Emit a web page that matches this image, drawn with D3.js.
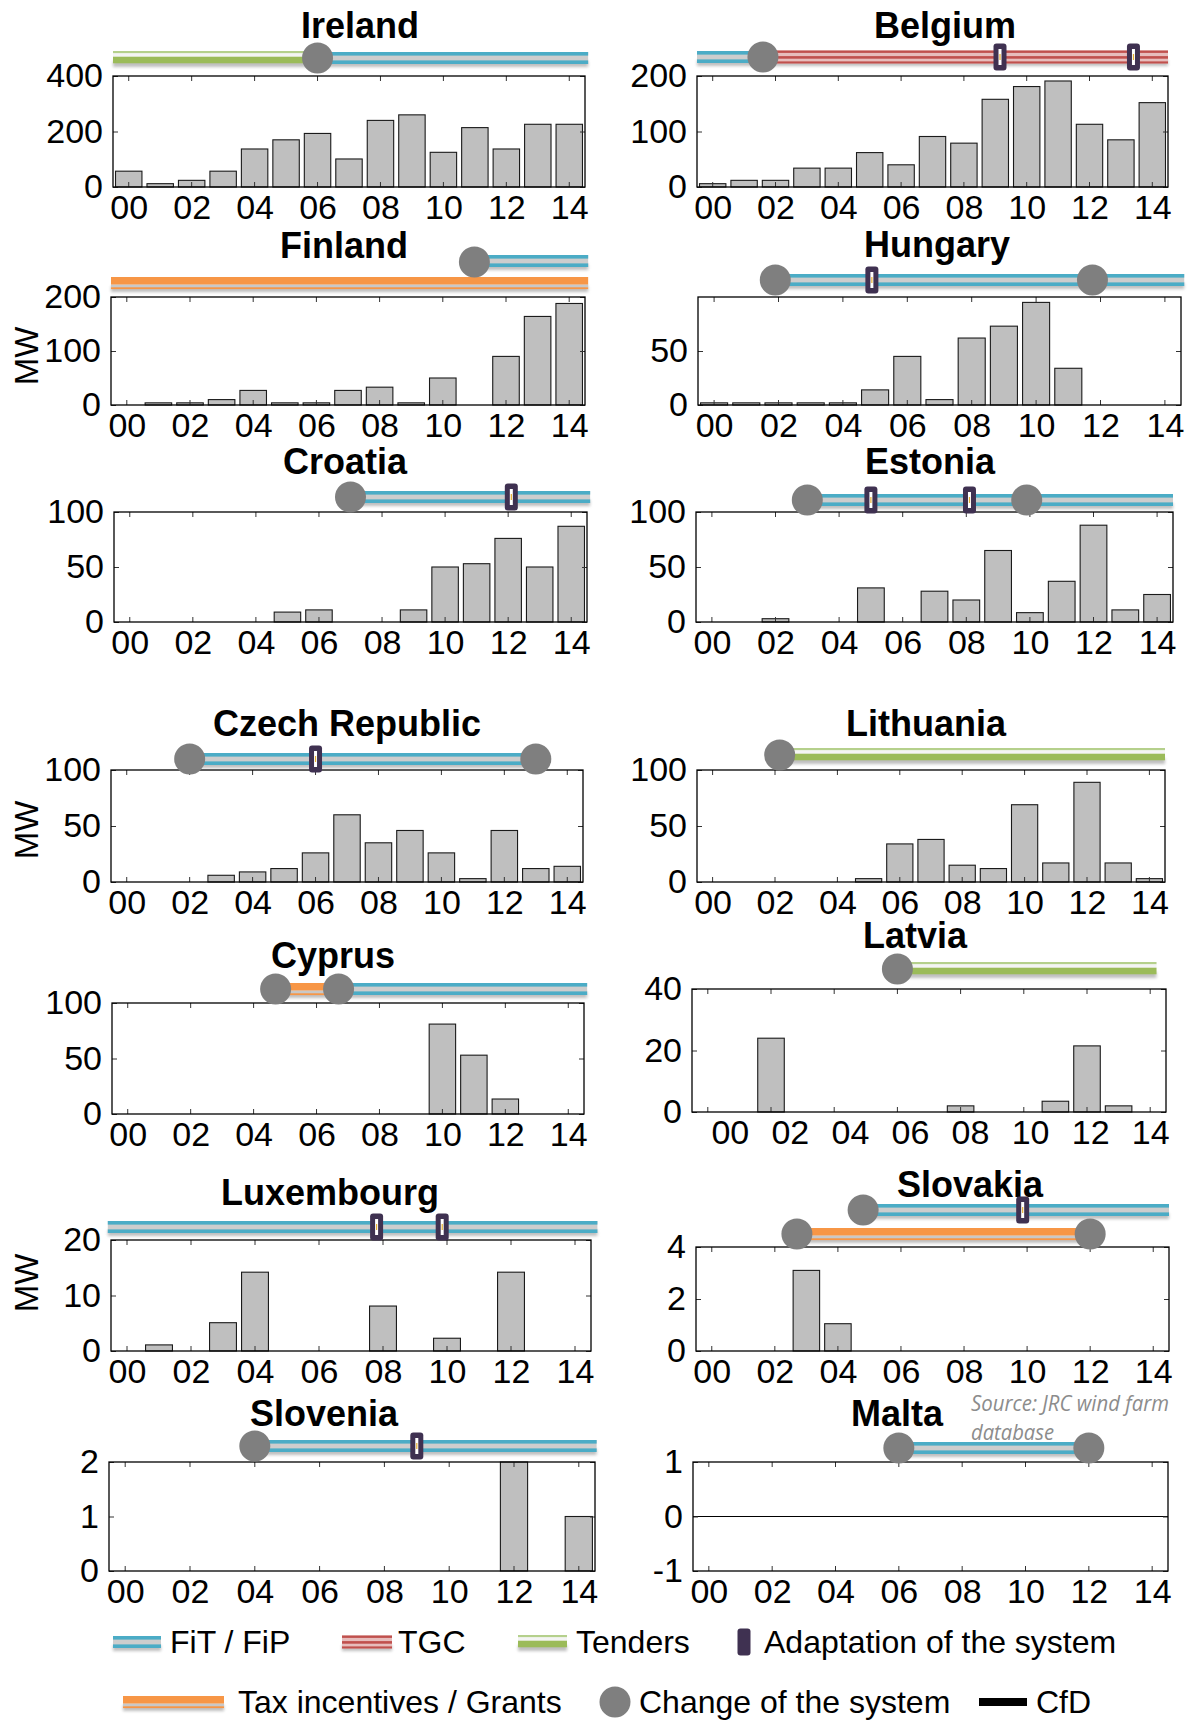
<!DOCTYPE html>
<html lang="en">
<head>
<meta charset="UTF-8">
<title>Wind support schemes and installed capacity</title>
<script src="https://d3js.org/d3.v7.min.js"></script>
<style>
  body { margin: 0; background: #fff; }
  svg { font-family: "Liberation Sans", Arial, sans-serif; }
</style>
</head>
<body>
<svg id="chart" width="1190" height="1720"></svg>
<script>
// ---- data (MW per year) ----
var years = [2000, 2001, 2002, 2003, 2004, 2005, 2006, 2007, 2008, 2009, 2010, 2011, 2012, 2013, 2014];
var labelYears = [2000, 2002, 2004, 2006, 2008, 2010, 2012, 2014];
var yearLabels = ["00", "02", "04", "06", "08", "10", "12", "14"];

var ireland    = [57, 12, 24, 57, 137, 170, 193, 101, 240, 260, 125, 214, 137, 226, 226];
var belgium    = [6, 12, 12, 34, 34, 62, 40, 91, 79, 158, 181, 191, 113, 85, 152];
var finland    = [0, 4, 4, 10, 27, 4, 4, 27, 33, 4, 50, 0, 90, 164, 188];
var hungary    = [2, 2, 2, 2, 2, 14, 45, 5, 62, 73, 95, 34, 0, 0, 0];
var croatia    = [0, 0, 0, 0, 0, 9, 11, 0, 0, 11, 50, 53, 76, 50, 87];
var estonia    = [0, 0, 3, 0, 0, 31, 0, 28, 20, 65, 8.5, 37, 88, 11, 25];
var czech      = [0, 0, 0, 6, 9, 12, 26, 60, 35, 46, 26, 3, 46, 12, 14];
var lithuania  = [0, 0, 0, 0, 0, 3, 34, 38, 15, 12, 69, 17, 89, 17, 3];
var cyprus     = [0, 0, 0, 0, 0, 0, 0, 0, 0, 0, 81, 53, 13.5, 0, 0];
var latvia     = [0, 0, 24, 0, 0, 0, 0, 0, 2, 0, 0, 3.5, 21.5, 2, 0];
var luxembourg = [0, 1.1, 0, 5.1, 14.2, 0, 0, 0, 8.1, 0, 2.3, 0, 14.2, 0, 0];
var slovakia   = [0, 0, 0, 3.1, 1.05, 0, 0, 0, 0, 0, 0, 0, 0, 0, 0];
var slovenia   = [0, 0, 0, 0, 0, 0, 0, 0, 0, 0, 0, 0, 2, 0, 1];
var malta      = [0, 0, 0, 0, 0, 0, 0, 0, 0, 0, 0, 0, 0, 0, 0];

var countries = ["Ireland", "Belgium", "Finland", "Hungary", "Croatia", "Estonia",
  "Czech Republic", "Lithuania", "Cyprus", "Latvia", "Luxembourg", "Slovakia", "Slovenia", "Malta"];
var series = [ireland, belgium, finland, hungary, croatia, estonia,
  czech, lithuania, cyprus, latvia, luxembourg, slovakia, slovenia, malta];
var yDomains = [[0, 400], [0, 200], [0, 200], [0, 100], [0, 100], [0, 100],
  [0, 100], [0, 100], [0, 100], [0, 40], [0, 20], [0, 4], [0, 2], [-1, 1]];
var yTickValues = [[0, 200, 400], [0, 100, 200], [0, 100, 200], [0, 50], [0, 50, 100], [0, 50, 100],
  [0, 50, 100], [0, 50, 100], [0, 50, 100], [0, 20, 40], [0, 10, 20], [0, 2, 4], [0, 1, 2], [-1, 0, 1]];

// support scheme periods: [scheme, from, to, row]
var policyLines = {
  "Ireland": [["tender", 1999.5, 2006], ["fit", 2006, 2014.6]],
  "Belgium": [["fit", 1999.5, 2001.6], ["tgc", 2001.6, 2014.5]],
  "Finland": [["tax", 1999.5, 2014.6, 1], ["fit", 2011, 2014.6, 0]],
  "Hungary": [["fit", 2001.9, 2014.6]],
  "Croatia": [["fit", 2007, 2014.6]],
  "Estonia": [["fit", 2003, 2014.5]],
  "Czech Republic": [["fit", 2002, 2013]],
  "Lithuania": [["tender", 2002.15, 2014.5]],
  "Cyprus": [["tax", 2004.7, 2006.7], ["fit", 2006.7, 2014.6]],
  "Latvia": [["tender", 2006, 2014.2]],
  "Luxembourg": [["fit", 1999.4, 2014.7]],
  "Slovakia": [["tax", 2002.7, 2012, 1], ["fit", 2004.8, 2014.5, 0]],
  "Slovenia": [["fit", 2004, 2014.55]],
  "Malta": [["fit", 2006, 2012]]
};
// change of the system: [year, row]
var systemChanges = {
  "Ireland": [[2006, 0]], "Belgium": [[2001.6, 0]], "Finland": [[2011, 0]],
  "Hungary": [[2001.9, 0], [2011.75, 0]], "Croatia": [[2007, 0]],
  "Estonia": [[2003, 0], [2009.9, 0]], "Czech Republic": [[2002, 0], [2013, 0]],
  "Lithuania": [[2002.15, 0]], "Cyprus": [[2004.7, 0], [2006.7, 0]], "Latvia": [[2006, 0]],
  "Luxembourg": [], "Slovakia": [[2002.7, 1], [2012, 1], [2004.8, 0]],
  "Slovenia": [[2004, 0]], "Malta": [[2006, 0], [2012, 0]]
};
// adaptation of the system: year
var adaptations = {
  "Belgium": [2009.15, 2013.4], "Hungary": [2004.9], "Croatia": [2012.1],
  "Estonia": [2005, 2008.1], "Czech Republic": [2006], "Luxembourg": [2007.8, 2009.85],
  "Slovakia": [2009.86], "Slovenia": [2009]
};

var legendRow1 = [["fit", "FiT / FiP"], ["tgc", "TGC"], ["tender", "Tenders"], ["adapt", "Adaptation of the system"]];
var legendRow2 = [["tax", "Tax incentives / Grants"], ["change", "Change of the system"], ["cfd", "CfD"]];

// ---- layout ----
var layout = {
  "Ireland":        {x0: 113, x1: 585,  y0: 76,   y1: 187,  tx: 360, ty: 38,   rows: [58]},
  "Belgium":        {x0: 697, x1: 1168, y0: 76,   y1: 187,  tx: 945, ty: 38,   rows: [57]},
  "Finland":        {x0: 111, x1: 585,  y0: 297,  y1: 405,  tx: 344, ty: 258,  rows: [261, 283]},
  "Hungary":        {x0: 698, x1: 1181, y0: 297,  y1: 405,  tx: 937, ty: 257,  rows: [280]},
  "Croatia":        {x0: 114, x1: 587,  y0: 512,  y1: 622,  tx: 345, ty: 474,  rows: [497]},
  "Estonia":        {x0: 696, x1: 1173, y0: 512,  y1: 622,  tx: 930, ty: 474,  rows: [500]},
  "Czech Republic": {x0: 111, x1: 583,  y0: 770,  y1: 882,  tx: 347, ty: 736,  rows: [759]},
  "Lithuania":      {x0: 697, x1: 1165, y0: 770,  y1: 882,  tx: 926, ty: 736,  rows: [755]},
  "Cyprus":         {x0: 112, x1: 584,  y0: 1003, y1: 1114, tx: 333, ty: 968,  rows: [989]},
  "Latvia":         {x0: 692, x1: 1166, y0: 989,  y1: 1112, tx: 915, ty: 948,  rows: [969], labelShift: 22},
  "Luxembourg":     {x0: 111, x1: 591,  y0: 1240, y1: 1351, tx: 330, ty: 1205, rows: [1227]},
  "Slovakia":       {x0: 696, x1: 1169, y0: 1247, y1: 1351, tx: 970, ty: 1197, rows: [1210, 1234]},
  "Slovenia":       {x0: 109, x1: 595,  y0: 1462, y1: 1571, tx: 324, ty: 1426, rows: [1446]},
  "Malta":          {x0: 693, x1: 1168, y0: 1462, y1: 1571, tx: 897, ty: 1426, rows: [1448]}
};

var COLORS = {fit: "#4bacc6", tgc: "#c0504d", tender: "#9bbb59", tax: "#f79646",
  change: "#7f7f7f", adapt: "#3f3151", bar: "#bfbfbf"};

// stripe bands: [offset, height, colour]
var STRIPES = {
  fit:    [[-6, 12, "#cdcdcd"], [-6, 3.6, COLORS.fit], [2.4, 3.6, COLORS.fit]],
  tender: [[-7, 2.4, "#b5d08c"], [-4.6, 3.3, "#f4f4f4"], [-1.3, 6.6, COLORS.tender]],
  tgc:    [[-6.5, 13, "#e7bdbc"], [-6.5, 2.4, COLORS.tgc], [-0.9, 2.6, COLORS.tgc], [4.4, 2.1, COLORS.tgc]],
  tax:    [[-6, 7.7, COLORS.tax], [1.7, 2.6, "#c8c8c8"], [4.3, 1.8, COLORS.tax]],
  cfd:    [[-4, 8, "#000"]]
};

var svg = d3.select("#chart");
var defs = svg.append("defs");
defs.append("filter").attr("id", "blur")
  .attr("x", "-5%").attr("y", "-200%").attr("width", "110%").attr("height", "500%")
  .append("feGaussianBlur").attr("stdDeviation", 1.6);

function drawStripe(g, type, xa, xb, y, shadow) {
  var w = xb - xa;
  if (shadow) {
    g.append("rect").attr("x", xa).attr("y", y + 3).attr("width", w).attr("height", 6)
      .attr("fill", "#8a8a8a").attr("opacity", 0.55).attr("filter", "url(#blur)");
  }
  STRIPES[type].forEach(function (b) {
    g.append("rect").attr("x", xa).attr("y", y + b[0]).attr("width", w).attr("height", b[1]).attr("fill", b[2]);
  });
}

function drawChange(g, cx, cy) {
  g.append("circle").attr("cx", cx).attr("cy", cy).attr("r", 15.5).attr("fill", COLORS.change);
}

function drawAdapt(g, cx, cy, inner) {
  g.append("rect").attr("x", cx - 6.5).attr("y", cy - 13.5).attr("width", 13).attr("height", 27)
    .attr("rx", 3).attr("fill", COLORS.adapt);
  if (inner) {
    g.append("rect").attr("x", cx - 1.5).attr("y", cy - 8).attr("width", 3).attr("height", 16).attr("fill", "#fff");
    g.append("rect").attr("x", cx - 0.6).attr("y", cy - 3).attr("width", 1.2).attr("height", 6).attr("fill", "#e8b030");
  }
}

countries.forEach(function (name, i) {
  var p = layout[name];
  var values = series[i];
  var g = svg.append("g").attr("class", "panel");

  var x = d3.scaleBand().domain(years).range([p.x0, p.x1]).paddingInner(0.16).paddingOuter(0.08);
  var tl = d3.scaleLinear().domain([1999.5, 2014.5]).range([p.x0, p.x1]);
  var y = d3.scaleLinear().domain(yDomains[i]).range([p.y1, p.y0]);
  var bw = x.bandwidth();

  // bars
  g.selectAll("rect.bar")
    .data(years.filter(function (yr, k) { return values[k] > 0; }))
    .enter().append("rect")
    .attr("class", "bar")
    .attr("x", function (d) { return x(d); })
    .attr("width", bw)
    .attr("y", function (d) { return y(values[years.indexOf(d)]); })
    .attr("height", function (d) { return y(0) - y(values[years.indexOf(d)]); })
    .attr("fill", COLORS.bar)
    .attr("stroke", "#1a1a1a")
    .attr("stroke-width", 1.1);

  if (yDomains[i][0] < 0) {
    g.append("line").attr("x1", p.x0).attr("x2", p.x1).attr("y1", y(0)).attr("y2", y(0))
      .attr("stroke", "#000").attr("stroke-width", 1.2);
  }

  // inward tick marks on all four sides
  var tickStyle = function (sel) {
    sel.select(".domain").remove();
    sel.selectAll("line").attr("stroke", "#333").attr("stroke-width", 1);
  };
  g.append("g").attr("transform", "translate(0," + p.y1 + ")")
    .call(d3.axisBottom(x).tickValues(labelYears).tickSizeInner(-5).tickSizeOuter(0).tickFormat(""))
    .call(tickStyle);
  g.append("g").attr("transform", "translate(0," + p.y0 + ")")
    .call(d3.axisTop(x).tickValues(labelYears).tickSizeInner(-5).tickSizeOuter(0).tickFormat(""))
    .call(tickStyle);
  g.append("g").attr("transform", "translate(" + p.x0 + ",0)")
    .call(d3.axisLeft(y).tickValues(yTickValues[i]).tickSizeInner(-5).tickSizeOuter(0).tickFormat(""))
    .call(tickStyle);
  g.append("g").attr("transform", "translate(" + p.x1 + ",0)")
    .call(d3.axisRight(y).tickValues(yTickValues[i]).tickSizeInner(-5).tickSizeOuter(0).tickFormat(""))
    .call(tickStyle);

  // frame
  g.append("rect").attr("x", p.x0).attr("y", p.y0).attr("width", p.x1 - p.x0).attr("height", p.y1 - p.y0)
    .attr("fill", "none").attr("stroke", "#000").attr("stroke-width", 1.3);

  // tick labels
  var shift = p.labelShift || 0;
  var lx = d3.scaleLinear().domain([2000, 2014])
    .range([x(2000) + bw / 2 + shift, x(2014) + bw / 2]);
  var xl = g.append("g").attr("transform", "translate(0," + p.y1 + ")")
    .call(d3.axisBottom(lx).tickValues(labelYears).tickSize(0).tickPadding(8)
      .tickFormat(function (d) { return yearLabels[labelYears.indexOf(d)]; }));
  xl.select(".domain").remove();
  xl.attr("font-family", null).attr("font-size", null);
  xl.selectAll("text").attr("font-size", 34).attr("fill", "#000");

  var yl = g.append("g").attr("transform", "translate(" + p.x0 + ",0)")
    .call(d3.axisLeft(y).tickValues(yTickValues[i]).tickSize(0).tickPadding(10)
      .tickFormat(function (d) { return String(d); }));
  yl.select(".domain").remove();
  yl.attr("font-family", null).attr("font-size", null);
  yl.selectAll("text").attr("font-size", 34).attr("fill", "#000");

  // title
  g.append("text").attr("x", p.tx).attr("y", p.ty).attr("text-anchor", "middle")
    .attr("font-size", 36).attr("font-weight", "bold").text(name);

  // policy timeline
  var tg = g.append("g").attr("class", "timeline");
  (policyLines[name] || []).forEach(function (s) {
    drawStripe(tg, s[0], tl(s[1]), tl(s[2]), p.rows[s[3] || 0], true);
  });
  (systemChanges[name] || []).forEach(function (c) {
    drawChange(tg, tl(c[0]), p.rows[c[1]] + (name === "Finland" ? 1 : 0));
  });
  (adaptations[name] || []).forEach(function (a) {
    drawAdapt(tg, tl(a), p.rows[0], true);
  });
});

// MW axis titles
[356, 830, 1283].forEach(function (cy) {
  svg.append("text").attr("transform", "translate(38," + cy + ") rotate(-90)")
    .attr("text-anchor", "middle").attr("font-size", 33).text("MW");
});

// source note
var src = svg.append("g").attr("font-style", "italic").attr("fill", "#8c8c8c")
  .attr("font-family", "'Liberation Sans Narrow', 'Open Sans', sans-serif").attr("font-size", 21);
src.append("text").attr("x", 971).attr("y", 1411).attr("textLength", 198)
  .attr("lengthAdjust", "spacingAndGlyphs").text("Source: JRC wind farm");
src.append("text").attr("x", 971).attr("y", 1440).attr("textLength", 83)
  .attr("lengthAdjust", "spacingAndGlyphs").text("database");

// legend
var lg = svg.append("g").attr("class", "legend").attr("font-size", 32);
var row1Pos = [[113, 161, 170], [342, 392, 398], [518, 567, 576], [744, 744, 764]];
var row2Pos = [[123, 224, 238], [615, 615, 639], [979, 1027, 1036]];
function legendItem(entry, pos, cy) {
  if (entry[0] === "adapt") drawAdapt(lg, pos[0], cy, false);
  else if (entry[0] === "change") drawChange(lg, pos[0], cy);
  else drawStripe(lg, entry[0], pos[0], pos[1], cy, entry[0] !== "cfd");
  lg.append("text").attr("x", pos[2]).attr("y", cy).attr("dy", "0.35em").text(entry[1]);
}
legendRow1.forEach(function (e, k) { legendItem(e, row1Pos[k], 1642); });
legendRow2.forEach(function (e, k) { legendItem(e, row2Pos[k], 1702); });
</script>
</body>
</html>
